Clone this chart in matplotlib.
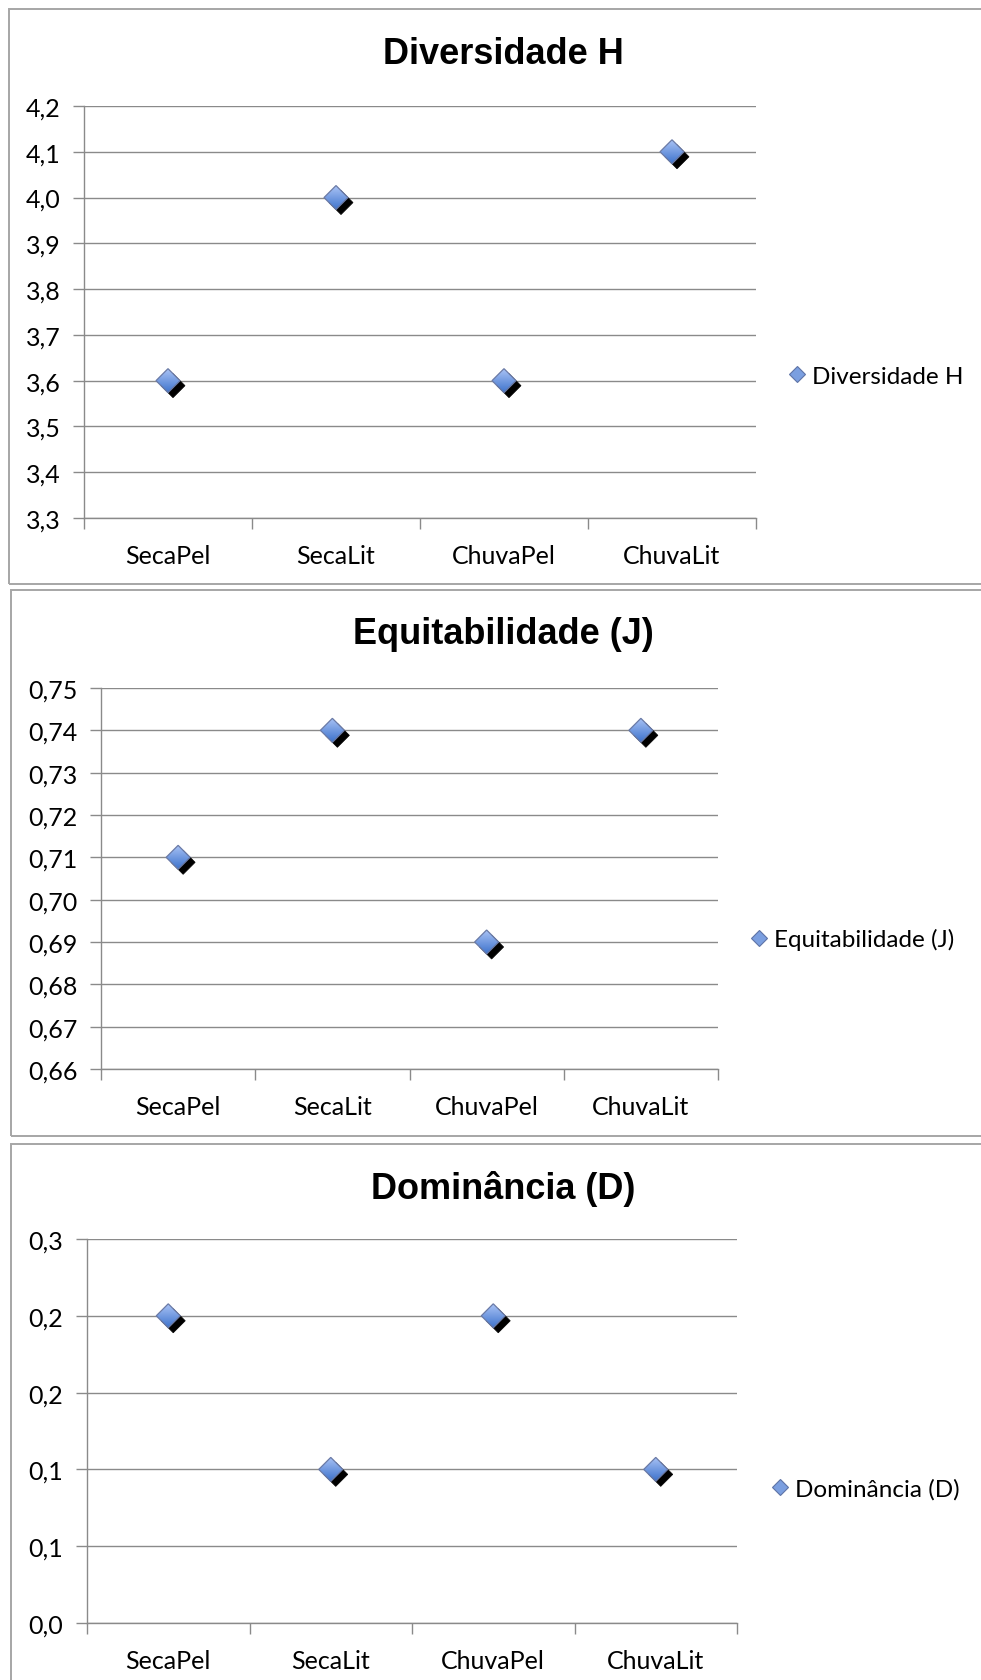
import numpy as np
import matplotlib
matplotlib.use("Agg")
import matplotlib.pyplot as plt
from matplotlib.patches import Polygon, Rectangle
from matplotlib.lines import Line2D
from matplotlib.transforms import ScaledTranslation

# ---- data ----
categories = ["SecaPel", "SecaLit", "ChuvaPel", "ChuvaLit"]
diversidade = [3.6, 4.0, 3.6, 4.1]
equitabilidade = [0.71, 0.74, 0.69, 0.74]
dominancia = [0.24, 0.12, 0.24, 0.12]

titles = ["Diversidade H", "Equitabilidade (J)", "Dominância (D)"]
y_ticks_h = [3.3, 3.4, 3.5, 3.6, 3.7, 3.8, 3.9, 4.0, 4.1, 4.2]
y_ticks_j = [0.66, 0.67, 0.68, 0.69, 0.70, 0.71, 0.72, 0.73, 0.74, 0.75]
y_ticks_d = [0.0, 0.06, 0.12, 0.18, 0.24, 0.30]

W, H = 981, 1681
DPI = 100
fig = plt.figure(figsize=(W / DPI, H / DPI), dpi=DPI)
fig.patch.set_facecolor("white")

TICK_FONT = "Lato"
TITLE_FONT = "Liberation Sans"
GRID = "#8a8a8a"
BORDER = "#a6a6a6"
TICK_SIZE = 18


def fx(px):
    return px / W


def fy(py):
    return 1 - py / H


def panel_border(x0, y0, x1, y1):
    fig.patches.append(Rectangle((fx(x0), fy(y1)), fx(x1 - x0), (y1 - y0) / H,
                                 transform=fig.transFigure, fill=False,
                                 edgecolor=BORDER, lw=1.4, zorder=0))


def diamond(ax, x, y, half=0.12):
    trans = fig.dpi_scale_trans + ScaledTranslation(x, y, ax.transData)
    verts = [(0, half), (half, 0), (0, -half), (-half, 0)]
    off = 0.05
    shadow = Polygon([(vx + off, vy - off) for vx, vy in verts], closed=True,
                     transform=trans, facecolor="black", edgecolor="black",
                     lw=0.5, zorder=3, clip_on=False)
    ax.add_patch(shadow)
    outline = Polygon(verts, closed=True, transform=trans, facecolor="none",
                      edgecolor="#6a7aa6", lw=0.9, zorder=5, clip_on=False)
    ax.add_patch(outline)
    top = np.array([0.66, 0.76, 0.96])
    bot = np.array([0.24, 0.45, 0.80])
    t = np.linspace(0, 1, 64)[:, None, None]
    grad = top * (1 - t) + bot * t
    grad = np.repeat(grad, 2, axis=1)
    im = ax.imshow(grad, extent=(-half, half, -half, half), transform=trans,
                   aspect="auto", interpolation="bilinear", origin="upper",
                   zorder=4)
    im.set_clip_path(outline)


def fmt(v, nd):
    return f"{v:.{nd}f}".replace(".", ",")


def make_panel(box, values, yticks, ndec, title, title_y, legend_xy, border):
    x0, y0, x1, y1 = box
    panel_border(*border)
    ax = fig.add_axes([fx(x0), fy(y1), fx(x1 - x0), (y1 - y0) / H])
    ax.set_xlim(-0.5, len(categories) - 0.5)
    ax.set_ylim(yticks[0], yticks[-1])
    ax.autoscale(False)
    for s in ("top", "right"):
        ax.spines[s].set_visible(False)
    for s in ("left", "bottom"):
        ax.spines[s].set_color(GRID)
        ax.spines[s].set_linewidth(1.0)
    ax.set_yticks(yticks)
    ax.set_yticklabels([fmt(v, ndec) for v in yticks],
                       fontfamily=TICK_FONT, fontsize=TICK_SIZE)
    ax.yaxis.grid(True, color=GRID, lw=1.0)
    ax.set_axisbelow(True)
    ax.tick_params(axis="y", length=8, width=1.0, color=GRID, pad=9)
    bounds = np.arange(len(categories) + 1) - 0.5
    ax.set_xticks(bounds)
    ax.set_xticklabels([""] * len(bounds))
    ax.tick_params(axis="x", which="major", length=8, width=1.0, color=GRID)
    ax.set_xticks(np.arange(len(categories)), minor=True)
    ax.set_xticklabels(categories, minor=True, fontfamily=TICK_FONT,
                       fontsize=TICK_SIZE)
    ax.tick_params(axis="x", which="minor", length=0, pad=19)
    for i, v in enumerate(values):
        diamond(ax, i, v)
    fig.text(fx(503), fy(title_y), title, ha="center", va="center",
             fontfamily=TITLE_FONT, fontweight="bold", fontsize=26)
    handle = Line2D([], [], linestyle="none", marker="D", markersize=8,
                    markerfacecolor="#7b9fe0", markeredgecolor="#5f74a6",
                    markeredgewidth=0.8)
    lx, ly = legend_xy
    ax.legend([handle], [title], loc="center left",
              bbox_to_anchor=(fx(lx - 9), fy(ly)), bbox_transform=fig.transFigure,
              frameon=False, borderpad=0, borderaxespad=0, handlelength=0.7,
              handletextpad=0.3, prop={"family": TICK_FONT, "size": 17.5})
    return ax


make_panel((84, 107, 756, 519), diversidade, y_ticks_h, 1, titles[0], 54,
           (797, 377), (9, 10, 1000, 585))
make_panel((101, 689, 718, 1070), equitabilidade, y_ticks_j, 2, titles[1], 635,
           (759, 940), (11, 591, 1000, 1137))
make_panel((87, 1240, 737, 1624), dominancia, y_ticks_d, 1, titles[2], 1189,
           (780, 1490), (11, 1145, 1000, 1700))

fig.savefig("out.png", dpi=DPI)
